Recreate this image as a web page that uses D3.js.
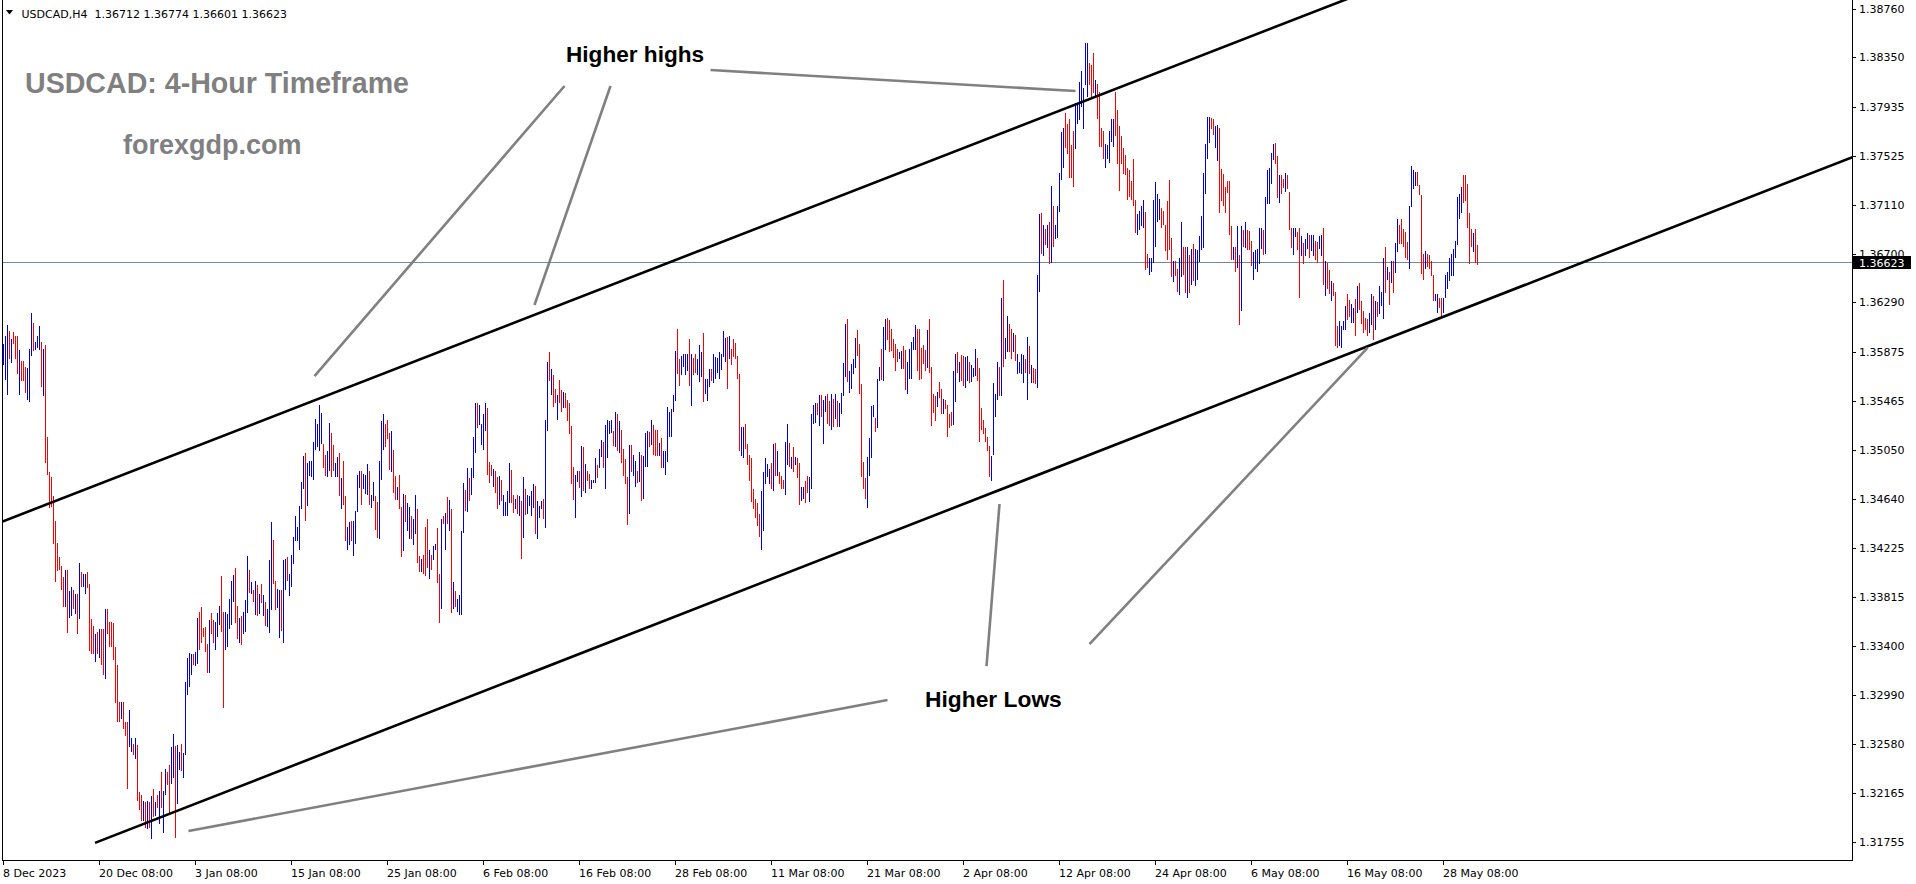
<!DOCTYPE html>
<html><head><meta charset="utf-8">
<script src="https://cdn.jsdelivr.net/npm/d3@7"></script>
<style>html,body{margin:0;padding:0;background:#fff;overflow:hidden}</style>
</head><body>
<svg id="c" width="1916" height="884"></svg>
<script>
// ---------------- DATA ----------------
const symbolLabel = "USDCAD,H4";
const lastBarOHLC = [1.36712, 1.36774, 1.36601, 1.36623];
const currentPrice = 1.36623;

const highs = [
1.3594,1.3601,1.3610,1.3605,1.3598,1.3604,1.3601,1.3601,1.3589,1.3580,
1.3580,1.3575,1.3574,1.3590,1.3620,1.3612,1.3596,1.3601,1.3609,1.3596,
1.3590,1.3593,1.3516,1.3486,1.3482,1.3466,1.3445,1.3427,1.3415,1.3407,
1.3398,1.3404,1.3404,1.3386,1.3390,1.3387,1.3384,1.3384,1.3410,1.3402,
1.3401,1.3401,1.3402,1.3392,1.3363,1.3357,1.3350,1.3352,1.3354,1.3354,
1.3354,1.3371,1.3371,1.3360,1.3360,1.3359,1.3339,1.3324,1.3293,1.3293,
1.3293,1.3276,1.3276,1.3286,1.3263,1.3258,1.3263,1.3257,1.3217,1.3215,
1.3210,1.3209,1.3210,1.3209,1.3214,1.3220,1.3209,1.3215,1.3218,1.3234,
1.3218,1.3237,1.3234,1.3240,1.3255,1.3266,1.3256,1.3257,1.3251,1.3258,
1.3250,1.3310,1.3330,1.3334,1.3333,1.3333,1.3335,1.3364,1.3369,1.3373,
1.3355,1.3356,1.3342,1.3362,1.3368,1.3362,1.3360,1.3368,1.3374,1.3399,
1.3369,1.3369,1.3367,1.3380,1.3395,1.3400,1.3406,1.3374,1.3364,1.3365,
1.3369,1.3379,1.3416,1.3404,1.3394,1.3387,1.3395,1.3391,1.3384,1.3392,
1.3383,1.3377,1.3371,1.3412,1.3444,1.3429,1.3395,1.3388,1.3387,1.3387,
1.3412,1.3413,1.3415,1.3401,1.3417,1.3432,1.3449,1.3440,1.3458,1.3478,
1.3500,1.3502,1.3494,1.3496,1.3496,1.3512,1.3531,1.3527,1.3543,1.3536,
1.3510,1.3501,1.3504,1.3528,1.3519,1.3509,1.3494,1.3499,1.3502,1.3481,
1.3496,1.3466,1.3440,1.3444,1.3445,1.3445,1.3454,1.3484,1.3487,1.3487,
1.3485,1.3484,1.3493,1.3487,
1.3467,1.3478,1.3466,1.3461,1.3496,1.3529,1.3535,1.3527,1.3530,1.3519,
1.3521,1.3505,1.3483,1.3474,1.3484,1.3457,1.3468,1.3467,1.3460,1.3457,
1.3449,1.3447,1.3467,1.3455,1.3416,1.3413,1.3417,1.3440,1.3447,1.3421,
1.3417,1.3424,1.3426,1.3439,1.3401,1.3447,1.3449,1.3452,1.3465,1.3463,
1.3455,1.3394,1.3386,1.3380,1.3383,1.3437,1.3477,1.3471,1.3490,1.3481,
1.3490,1.3516,1.3544,1.3544,1.3543,1.3527,1.3535,1.3544,1.3540,1.3495,
1.3492,1.3489,1.3487,1.3482,1.3483,1.3480,1.3467,1.3461,1.3470,1.3494,
1.3488,1.3467,1.3464,1.3467,1.3466,1.3462,1.3482,1.3472,1.3467,1.3466,
1.3470,1.3476,1.3475,1.3462,1.3458,1.3462,1.3464,1.3530,1.3579,1.3587,
1.3573,1.3568,1.3556,1.3551,1.3564,1.3555,1.3554,1.3553,1.3547,1.3544,
1.3525,1.3491,1.3484,1.3487,1.3487,1.3508,1.3507,1.3493,1.3487,1.3485,
1.3480,1.3480,1.3498,1.3492,1.3506,1.3513,1.3512,1.3526,1.3530,1.3529,
1.3530,1.3521,1.3537,1.3535,1.3529,1.3522,1.3506,1.3497,1.3482,1.3509,
1.3509,1.3501,1.3496,1.3487,1.3503,1.3501,1.3500,1.3519,1.3521,1.3520,
1.3530,1.3526,1.3522,1.3522,1.3511,1.3515,1.3504,1.3504,1.3541,1.3537,
1.3539,1.3551,1.3588,1.3607,1.3581,1.3584,1.3586,1.3586,1.3586,1.3598,
1.3586,1.3582,1.3586,1.3581,1.3593,1.3587,1.3603,1.3565,1.3565,1.3573,
1.3573,1.3586,1.3583,1.3582,1.3587,1.3586,1.3605,1.3599,1.3600,1.3601,
1.3590,1.3598,1.3595,1.3584,1.3569,
1.3524,1.3524,1.3527,1.3510,1.3501,1.3498,1.3472,1.3464,1.3460,1.3451,
1.3470,1.3486,1.3498,1.3493,1.3489,1.3494,1.3510,1.3511,1.3504,1.3486,
1.3483,1.3480,1.3512,1.3527,1.3511,1.3499,1.3507,1.3499,1.3498,1.3494,
1.3474,1.3474,1.3479,1.3483,1.3482,1.3535,1.3543,1.3544,1.3544,1.3551,
1.3551,1.3547,1.3550,1.3552,1.3546,1.3552,1.3548,1.3552,1.3546,1.3544,
1.3553,1.3578,1.3611,1.3615,1.3571,1.3577,1.3581,1.3599,1.3606,1.3594,
1.3560,1.3495,1.3481,1.3499,1.3515,1.3542,1.3543,1.3532,1.3565,1.3575,
1.3590,1.3608,1.3615,1.3616,1.3614,1.3607,1.3598,1.3594,1.3590,1.3587,
1.3588,1.3592,1.3589,1.3579,1.3590,1.3596,1.3600,1.3610,1.3607,1.3607,
1.3591,1.3593,1.3589,1.3606,1.3615,1.3575,1.3552,1.3550,1.3554,1.3562,
1.3556,1.3548,1.3547,1.3543,1.3535,1.3537,1.3571,1.3586,1.3587,1.3579,
1.3585,1.3584,1.3583,1.3584,1.3579,1.3576,1.3574,1.3590,1.3582,1.3574,
1.3540,1.3530,1.3523,1.3516,1.3508,1.3500,1.3561,1.3552,1.3579,1.3575,
1.3633,1.3648,1.3599,1.3618,1.3611,1.3607,1.3603,1.3602,1.3586,1.3579,
1.3586,1.3585,1.3581,1.3600,1.3592,1.3576,1.3574,1.3573,1.3652,1.3703,
1.3704,1.3694,1.3691,1.3694,1.3697,1.3727,1.3710,1.3694,1.3710,1.3738,
1.3772,1.3776,1.3788,1.3779,1.3783,1.3761,1.3773,1.3797,1.3797,1.3814,
1.3824,1.3809,1.3847,1.3847,1.3830,1.3829,1.3839,1.3816,1.3813,1.3806,
1.3776,1.3773,1.3762,1.3761,
1.3773,1.3783,1.3783,1.3806,1.3791,1.3777,1.3769,1.3759,1.3753,1.3742,
1.3740,1.3731,1.3750,1.3715,1.3703,1.3706,1.3710,1.3715,1.3705,1.3670,
1.3666,1.3666,1.3715,1.3730,1.3720,1.3716,1.3708,1.3706,1.3694,1.3714,
1.3732,1.3683,1.3664,1.3664,1.3657,1.3666,1.3697,1.3676,1.3676,1.3676,
1.3669,1.3674,1.3678,1.3674,1.3673,1.3685,1.3702,1.3738,1.3762,1.3785,
1.3785,1.3784,1.3783,1.3777,1.3778,1.3776,1.3741,1.3737,1.3726,1.3731,
1.3731,1.3693,1.3676,1.3676,1.3693,1.3669,1.3693,1.3690,1.3697,1.3690,
1.3689,1.3681,1.3671,1.3673,1.3674,1.3692,1.3692,1.3690,1.3718,1.3740,
1.3742,1.3755,1.3762,1.3763,1.3752,1.3736,1.3736,1.3733,1.3738,1.3736,
1.3722,1.3692,1.3692,1.3692,1.3688,1.3692,1.3685,1.3679,1.3682,1.3687,
1.3686,1.3686,1.3686,1.3681,1.3680,1.3685,1.3686,1.3692,1.3664,1.3662,
1.3656,1.3647,1.3645,1.3638,1.3609,1.3613,1.3609,1.3613,1.3626,1.3636,
1.3631,1.3628,1.3624,1.3632,1.3643,1.3645,1.3630,1.3622,1.3616,1.3615,
1.3620,1.3636,1.3634,1.3630,1.3629,1.3643,1.3638,1.3666,1.3676,1.3659,
1.3655,1.3664,1.3664,1.3679,1.3699,1.3694,1.3699,1.3691,1.3688,1.3680,
1.3710,1.3744,1.3740,1.3739,1.3739,1.3728,1.3719,1.3670,1.3672,1.3670,
1.3669,1.3664,1.3652,1.3636,1.3636,1.3633,1.3633,1.3633,1.3652,1.3655,
1.3666,1.3670,1.3674,1.3681,1.3718,1.3720,1.3726,1.3736,1.3736,1.3729,
1.3704,1.3691,1.3687,1.3691,1.36774
];

const lows = [
1.3576,1.3564,1.3551,1.3581,1.3578,1.3594,1.3581,1.3569,1.3551,1.3563,
1.3563,1.3553,1.3547,1.3545,1.3584,1.3588,1.3589,1.3591,1.3589,1.3558,
1.3550,1.3494,1.3484,1.3456,1.3457,1.3426,1.3394,1.3403,1.3404,1.3387,
1.3373,1.3373,1.3351,1.3364,1.3365,1.3371,1.3367,1.3350,1.3363,1.3390,
1.3390,1.3384,1.3389,1.3336,1.3333,1.3333,1.3327,1.3333,1.3330,1.3324,
1.3316,1.3312,1.3350,1.3339,1.3339,1.3328,1.3292,1.3276,1.3276,1.3279,
1.3270,1.3264,1.3220,1.3255,1.3251,1.3248,1.3245,1.3210,1.3202,1.3193,
1.3193,1.3187,1.3186,1.3187,1.3178,1.3196,1.3197,1.3204,1.3190,1.3204,
1.3183,1.3215,1.3223,1.3200,1.3224,1.3229,1.3179,1.3207,1.3236,1.3235,
1.3229,1.3248,1.3299,1.3306,1.3316,1.3324,1.3323,1.3325,1.3337,1.3343,
1.3348,1.3335,1.3317,1.3317,1.3350,1.3343,1.3337,1.3348,1.3358,1.3352,
1.3288,1.3337,1.3339,1.3354,1.3358,1.3377,1.3359,1.3346,1.3343,1.3341,
1.3350,1.3352,1.3368,1.3385,1.3384,1.3377,1.3366,1.3365,1.3367,1.3376,
1.3365,1.3357,1.3356,1.3351,1.3370,1.3392,1.3370,1.3372,1.3347,1.3353,
1.3343,1.3387,1.3395,1.3382,1.3390,1.3409,1.3428,1.3428,1.3421,1.3455,
1.3472,1.3445,1.3458,1.3483,1.3482,1.3480,1.3505,1.3507,1.3504,1.3510,
1.3490,1.3483,1.3482,1.3487,1.3482,1.3487,1.3482,1.3482,1.3466,1.3455,
1.3459,1.3428,1.3421,1.3425,1.3428,1.3416,1.3426,1.3453,1.3473,1.3459,
1.3472,1.3468,1.3467,1.3459,
1.3456,1.3462,1.3438,1.3431,1.3430,1.3480,1.3505,1.3507,1.3514,1.3488,
1.3486,1.3469,1.3463,1.3463,1.3455,1.3415,1.3420,1.3444,1.3437,1.3430,
1.3430,1.3425,1.3434,1.3410,1.3402,1.3402,1.3401,1.3399,1.3406,1.3396,
1.3404,1.3412,1.3421,1.3393,1.3359,1.3371,1.3443,1.3421,1.3443,1.3437,
1.3368,1.3371,1.3373,1.3369,1.3366,1.3366,1.3435,1.3454,1.3453,1.3462,
1.3467,1.3481,1.3502,1.3523,1.3526,1.3509,1.3505,1.3521,1.3484,1.3477,
1.3483,1.3474,1.3469,1.3455,1.3459,1.3462,1.3449,1.3449,1.3449,1.3460,
1.3460,1.3452,1.3455,1.3451,1.3449,1.3413,1.3431,1.3450,1.3451,1.3458,
1.3449,1.3456,1.3434,1.3430,1.3448,1.3455,1.3447,1.3439,1.3521,1.3563,
1.3551,1.3541,1.3544,1.3530,1.3544,1.3537,1.3540,1.3540,1.3529,1.3518,
1.3476,1.3463,1.3448,1.3478,1.3473,1.3465,1.3470,1.3469,1.3479,1.3472,
1.3472,1.3477,1.3477,1.3481,1.3490,1.3499,1.3490,1.3472,1.3498,1.3518,
1.3519,1.3508,1.3507,1.3504,1.3502,1.3494,1.3483,1.3476,1.3442,1.3451,
1.3486,1.3483,1.3474,1.3477,1.3478,1.3462,1.3464,1.3491,1.3491,1.3507,
1.3509,1.3501,1.3500,1.3500,1.3500,1.3490,1.3490,1.3484,1.3495,1.3516,
1.3516,1.3537,1.3546,1.3569,1.3559,1.3568,1.3575,1.3568,1.3571,1.3559,
1.3542,1.3568,1.3570,1.3568,1.3562,1.3566,1.3545,1.3552,1.3546,1.3558,
1.3563,1.3561,1.3565,1.3570,1.3565,1.3572,1.3583,1.3579,1.3556,1.3581,
1.3576,1.3583,1.3581,1.3565,1.3504,
1.3500,1.3498,1.3506,1.3492,1.3479,1.3461,1.3455,1.3448,1.3441,1.3432,
1.3421,1.3437,1.3476,1.3482,1.3476,1.3472,1.3470,1.3483,1.3483,1.3476,
1.3472,1.3472,1.3467,1.3492,1.3491,1.3489,1.3486,1.3492,1.3481,1.3459,
1.3462,1.3464,1.3460,1.3469,1.3461,1.3472,1.3527,1.3528,1.3534,1.3525,
1.3533,1.3510,1.3537,1.3527,1.3525,1.3522,1.3524,1.3531,1.3524,1.3524,
1.3535,1.3550,1.3566,1.3562,1.3553,1.3556,1.3569,1.3574,1.3584,1.3552,
1.3482,1.3472,1.3464,1.3456,1.3483,1.3498,1.3533,1.3520,1.3523,1.3563,
1.3564,1.3563,1.3589,1.3597,1.3587,1.3588,1.3582,1.3571,1.3579,1.3581,
1.3573,1.3573,1.3555,1.3552,1.3565,1.3565,1.3589,1.3589,1.3571,1.3564,
1.3565,1.3577,1.3571,1.3574,1.3570,1.3525,1.3536,1.3529,1.3541,1.3549,
1.3535,1.3535,1.3539,1.3516,1.3523,1.3525,1.3526,1.3545,1.3570,1.3562,
1.3563,1.3559,1.3557,1.3563,1.3561,1.3562,1.3566,1.3567,1.3563,1.3512,
1.3522,1.3518,1.3512,1.3504,1.3482,1.3479,1.3501,1.3533,1.3547,1.3550,
1.3550,1.3575,1.3581,1.3587,1.3587,1.3581,1.3587,1.3580,1.3569,1.3570,
1.3569,1.3561,1.3570,1.3547,1.3569,1.3561,1.3561,1.3560,1.3557,1.3638,
1.3670,1.3668,1.3677,1.3675,1.3661,1.3662,1.3676,1.3682,1.3683,1.3705,
1.3732,1.3742,1.3759,1.3754,1.3734,1.3734,1.3726,1.3758,1.3779,1.3782,
1.3793,1.3775,1.3812,1.3802,1.3812,1.3802,1.3805,1.3802,1.3783,1.3760,
1.3760,1.3750,1.3742,1.3750,
1.3746,1.3764,1.3760,1.3769,1.3745,1.3723,1.3745,1.3737,1.3736,1.3715,
1.3718,1.3715,1.3710,1.3687,1.3686,1.3690,1.3693,1.3692,1.3656,1.3658,
1.3652,1.3655,1.3662,1.3676,1.3697,1.3698,1.3692,1.3694,1.3672,1.3665,
1.3673,1.3650,1.3646,1.3651,1.3638,1.3635,1.3650,1.3652,1.3637,1.3633,
1.3637,1.3644,1.3647,1.3643,1.3648,1.3663,1.3673,1.3675,1.3720,1.3750,
1.3763,1.3775,1.3770,1.3759,1.3748,1.3704,1.3714,1.3710,1.3704,1.3721,
1.3686,1.3665,1.3665,1.3655,1.3658,1.3610,1.3622,1.3676,1.3675,1.3673,
1.3673,1.3660,1.3648,1.3657,1.3655,1.3661,1.3674,1.3669,1.3670,1.3712,
1.3712,1.3729,1.3749,1.3745,1.3717,1.3713,1.3720,1.3725,1.3722,1.3724,
1.3690,1.3675,1.3669,1.3684,1.3673,1.3633,1.3668,1.3661,1.3668,1.3674,
1.3666,1.3672,1.3668,1.3665,1.3662,1.3674,1.3668,1.3644,1.3634,1.3640,
1.3636,1.3630,1.3634,1.3592,1.3591,1.3592,1.3591,1.3606,1.3606,1.3614,
1.3617,1.3612,1.3612,1.3601,1.3620,1.3623,1.3611,1.3603,1.3606,1.3601,
1.3603,1.3610,1.3597,1.3606,1.3617,1.3619,1.3626,1.3615,1.3637,1.3648,
1.3627,1.3645,1.3637,1.3654,1.3671,1.3678,1.3678,1.3676,1.3666,1.3665,
1.3657,1.3709,1.3724,1.3727,1.3727,1.3719,1.3653,1.3648,1.3657,1.3659,
1.3657,1.3651,1.3630,1.3630,1.3620,1.3624,1.3617,1.3620,1.3633,1.3640,
1.3647,1.3651,1.3651,1.3666,1.3677,1.3699,1.3704,1.3713,1.3714,1.3692,
1.3661,1.3676,1.3671,1.3662,1.36601
];

// u = bullish bar (close above open), d = bearish bar
const directions = (
"uuududddud dduuuduuud uddddddddd duduududud uuddddudud dudddddddu ddduududdd ududududud uudduuduud uuuuuduudd " +
"dddudduuud duuuuuddud uuudududud uduuudduud uuduuuuuuu uduuuuuuuu dduudduudu dduuduuuud uuud " +
"uudduuuddd uddudduduu duuddudddu duuddududu duduuuudud uuuduuuudd dudduduuuu ddudududuu uuduuuduud uddudduddd " +
"dduudududd uuuduuduuu udududdddu duududuuud uddduduuuu uuudduuuud udduuuduuu duuuuuuudu ddddd " +
"uudddddddd uuuuududud dduudududd uudduuuudu duuddududu uuuduuuudd ddduuuuduu duuddddddu udduuuuudd ddduddddud " +
"dudddduudu dduuduuudd ddddduuuud uduudduduu uudududduu dudududuuu uuddddduuu uuuudddudd dduu " +
"uuuddddddd dddduuuudd uuuuuudddd ddudduuddu duduuuuuuu udduuddddd ddudududud dduuuuuduu uuudduddud dduudduduu " +
"duudduudud duddduuuud duududdddd uududuuudu duduuddddd uuuuddddud ddduudduuu uuuuuuuddd ddudd"
).replace(/ /g, "").split("");

const yTickValues = [1.38760, 1.38350, 1.37935, 1.37525, 1.37110, 1.36700, 1.36290, 1.35875, 1.35465,
  1.35050, 1.34640, 1.34225, 1.33815, 1.33400, 1.32990, 1.32580, 1.32165, 1.31755];

const xTickLabels = ["8 Dec 2023", "20 Dec 08:00", "3 Jan 08:00", "15 Jan 08:00", "25 Jan 08:00", "6 Feb 08:00",
  "16 Feb 08:00", "28 Feb 08:00", "11 Mar 08:00", "21 Mar 08:00", "2 Apr 08:00", "12 Apr 08:00",
  "24 Apr 08:00", "6 May 08:00", "16 May 08:00", "28 May 08:00"];
const barsPerXTick = 48;

// channel trend lines (bar index, price)
const upperChannel = [{bar: 0, price: 1.34449}, {bar: 666, price: 1.38802}];
const lowerChannel = [{bar: 46, price: 1.31745}, {bar: 924, price: 1.37507}];

// annotation pointer lines (bar index, price)
const pointers = [
  [{bar: 280.75, price: 1.38110}, {bar: 155.75, price: 1.35671}],
  [{bar: 303.75, price: 1.38110}, {bar: 265.75, price: 1.36268}],
  [{bar: 353.75, price: 1.38244}, {bar: 536.25, price: 1.38068}],
  [{bar: 442.25, price: 1.32946}, {bar: 92.75, price: 1.31845}],
  [{bar: 491.75, price: 1.33232}, {bar: 498.25, price: 1.34595}],
  [{bar: 543.25, price: 1.33417}, {bar: 682.25, price: 1.35907}]
];

// ---------------- DRAW ----------------
const BLUE = "#0000DD", RED = "#FF0000";
const svg = d3.select("#c");
svg.append("rect").attr("width", 1916).attr("height", 884).attr("fill", "#fff");

const P = {left: 2, right: 1852, top: 0, bottom: 860};
const x = d3.scaleLinear().domain([0, 924]).range([3, 1851]);
const y = d3.scaleLinear().domain([1.31755, 1.38760]).range([841.7, 8.7]);

svg.append("defs").append("clipPath").attr("id", "plotClip")
  .append("rect").attr("x", P.left + 1).attr("y", P.top).attr("width", P.right - P.left - 1).attr("height", P.bottom - P.top);

const plot = svg.append("g").attr("clip-path", "url(#plotClip)");

// current price line
const cpY = Math.round(y(currentPrice)) - 1;
plot.append("rect").attr("x", P.left).attr("width", P.right - P.left).attr("y", cpY).attr("height", 1)
  .attr("fill", "#778899").attr("shape-rendering", "crispEdges");

// bars (1px wide, high to low)
const n = Math.min(highs.length, lows.length, directions.length);
const bars = d3.range(n).map(i => ({i, h: highs[i], l: lows[i], up: directions[i] === "u"}));
plot.append("g").selectAll("rect").data(bars).join("rect")
  .attr("x", d => Math.round(x(d.i))).attr("width", 1)
  .attr("y", d => Math.round(y(d.h)))
  .attr("height", d => Math.max(Math.round(y(d.l)) - Math.round(y(d.h)), 2))
  .attr("fill", d => d.up ? BLUE : RED)
  .attr("shape-rendering", "crispEdges");

// channel lines
function extend(pts, b0, b1) {
  const m = (pts[1].price - pts[0].price) / (pts[1].bar - pts[0].bar);
  const f = b => pts[0].price + m * (b - pts[0].bar);
  return [[x(b0), y(f(b0))], [x(b1), y(f(b1))]];
}
const lineGen = d3.line();
plot.append("path").attr("d", lineGen(extend(upperChannel, -5, 940)))
  .attr("stroke", "#000").attr("stroke-width", 2.6).attr("fill", "none");
plot.append("path").attr("d", lineGen(extend(lowerChannel, lowerChannel[0].bar, 940)))
  .attr("stroke", "#000").attr("stroke-width", 2.6).attr("fill", "none");

// pointers
plot.append("g").selectAll("path").data(pointers).join("path")
  .attr("d", d => lineGen(d.map(p => [x(p.bar), y(p.price)])))
  .attr("stroke", "#808080").attr("stroke-width", 2.6).attr("fill", "none");

// annotation texts
const ann = svg.append("g").attr("font-family", "'Liberation Sans', Arial, sans-serif").attr("font-weight", "bold");
ann.append("text").attr("x", 25).attr("y", 93).attr("font-size", 28.6).attr("fill", "#808080").text("USDCAD: 4-Hour Timeframe");
ann.append("text").attr("x", 123).attr("y", 154).attr("font-size", 27).attr("fill", "#808080").text("forexgdp.com");
ann.append("text").attr("x", 566).attr("y", 62).attr("font-size", 22.6).attr("fill", "#000").text("Higher highs");
ann.append("text").attr("x", 925).attr("y", 707).attr("font-size", 22.8).attr("fill", "#000").text("Higher Lows");

// frame
const frame = svg.append("g").attr("stroke", "#000").attr("stroke-width", 1).attr("shape-rendering", "crispEdges");
frame.append("line").attr("x1", P.left + 0.5).attr("x2", P.left + 0.5).attr("y1", 0).attr("y2", P.bottom + 0.5);
frame.append("line").attr("x1", P.left).attr("x2", P.right + 1).attr("y1", P.bottom + 0.5).attr("y2", P.bottom + 0.5);
frame.append("line").attr("x1", P.right + 0.5).attr("x2", P.right + 0.5).attr("y1", 0).attr("y2", P.bottom + 1);

// y axis
const axisFont = "'DejaVu Sans', Verdana, sans-serif";
const yAx = svg.append("g");
yAx.selectAll("line").data(yTickValues).join("line")
  .attr("x1", P.right + 1).attr("x2", P.right + 4)
  .attr("y1", d => Math.round(y(d)) + 0.5).attr("y2", d => Math.round(y(d)) + 0.5)
  .attr("stroke", "#000").attr("shape-rendering", "crispEdges");
yAx.selectAll("text").data(yTickValues).join("text")
  .attr("x", 1859).attr("y", d => y(d) + 4)
  .attr("font-family", axisFont).attr("font-size", 11).attr("fill", "#000")
  .text(d => d.toFixed(5));

// current price label (covers the lower part of the nearest tick label, as in the terminal)
const cpBox = svg.append("g");
cpBox.append("rect").attr("x", 1853).attr("y", Math.round(y(currentPrice)) - 7).attr("width", 58).attr("height", 13).attr("fill", "#000");
cpBox.append("text").attr("x", 1859).attr("y", y(currentPrice) + 4)
  .attr("font-family", axisFont).attr("font-size", 11).attr("fill", "#fff").text(currentPrice.toFixed(5));

// x axis
const xAx = svg.append("g");
const xt = xTickLabels.map((t, k) => ({t, bar: k * barsPerXTick}));
xAx.selectAll("line").data(xt).join("line")
  .attr("x1", d => Math.round(x(d.bar)) + 0.5).attr("x2", d => Math.round(x(d.bar)) + 0.5)
  .attr("y1", P.bottom + 1).attr("y2", P.bottom + 5)
  .attr("stroke", "#000").attr("shape-rendering", "crispEdges");
xAx.selectAll("text").data(xt).join("text")
  .attr("x", d => x(d.bar)).attr("y", 877)
  .attr("font-family", axisFont).attr("font-size", 11).attr("fill", "#000")
  .text(d => d.t);

// header
const hdr = svg.append("g");
hdr.append("path").attr("d", "M6,10 L13,10 L9.5,14.5 Z").attr("fill", "#000");
hdr.append("text").attr("x", 21.5).attr("y", 17.5).attr("font-family", axisFont).attr("font-size", 11)
  .attr("fill", "#000").attr("xml:space", "preserve").style("white-space", "pre")
  .text(symbolLabel + "  " + lastBarOHLC.map(v => v.toFixed(5)).join(" "));
</script>
</body></html>
